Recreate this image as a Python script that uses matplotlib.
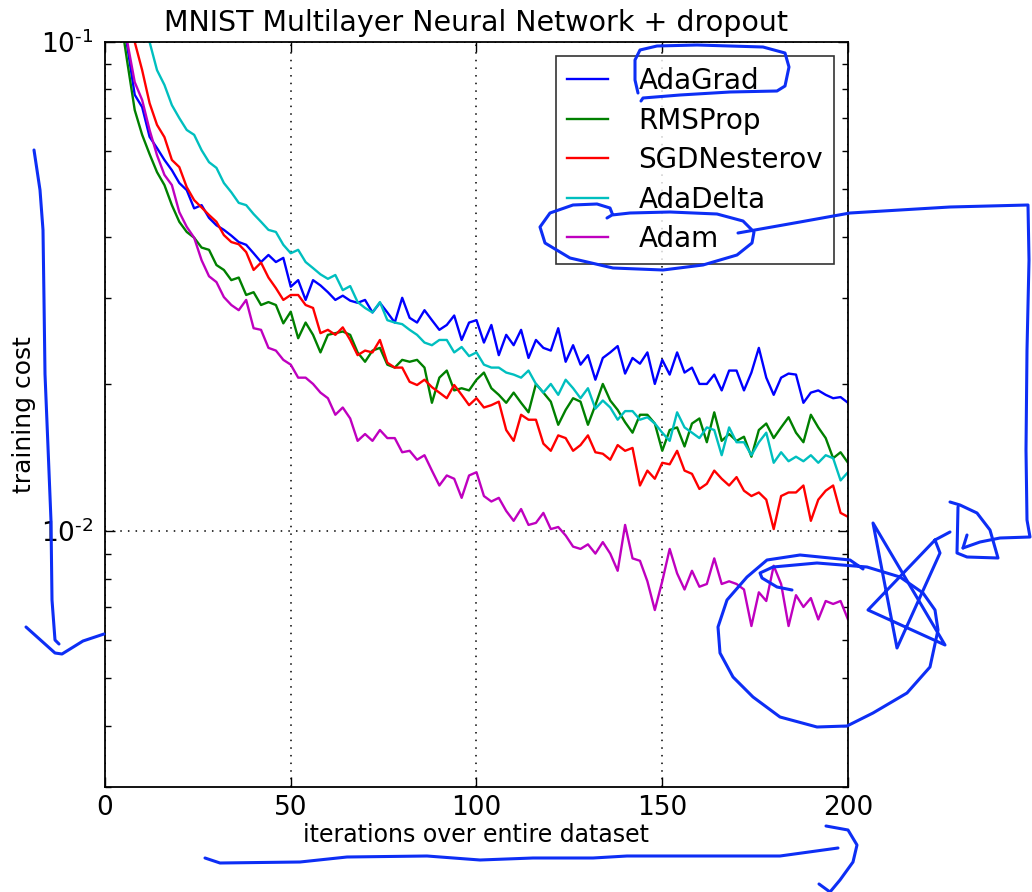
import numpy as np
import matplotlib
matplotlib.use("Agg")
import matplotlib.pyplot as plt
from matplotlib.lines import Line2D
from matplotlib.ticker import FixedLocator, FixedFormatter

plt.rcParams["font.family"] = ["DejaVu Sans"]
plt.rcParams["mathtext.default"] = "regular"

# iterations (every second epoch)
iters = list(range(0, 201, 2))

adagrad = [
    0.30, 0.18, 0.125, 0.098, 0.078, 0.0736, 0.064, 0.0607, 0.0574, 0.0547,
    0.0515, 0.0498, 0.0457, 0.0464, 0.0437, 0.0422, 0.0413, 0.0402, 0.039, 0.0385,
    0.037, 0.0355, 0.0367, 0.0355, 0.0362, 0.0316, 0.0326, 0.0297, 0.0326, 0.0318,
    0.0308, 0.0297, 0.0303, 0.0296, 0.0293, 0.0297, 0.028, 0.0293, 0.028, 0.0267,
    0.030, 0.0273, 0.0267, 0.0283, 0.027, 0.0258, 0.0264, 0.0276, 0.0246, 0.0267,
    0.027, 0.0243, 0.0264, 0.0229, 0.0252, 0.024, 0.0258, 0.0226, 0.0246, 0.0237,
    0.0234, 0.026, 0.0222, 0.024, 0.0219, 0.0229, 0.0204, 0.0226, 0.0232, 0.0239,
    0.021, 0.0226, 0.022, 0.0232, 0.020, 0.0224, 0.0209, 0.0232, 0.0211, 0.0216,
    0.020, 0.020, 0.0209, 0.0194, 0.0213, 0.0213, 0.0194, 0.0211, 0.0237, 0.0206,
    0.019, 0.0206, 0.021, 0.0209, 0.0183, 0.0192, 0.0194, 0.019, 0.0187, 0.0188, 0.0183,
]
rmsprop = [
    0.28, 0.17, 0.115, 0.091, 0.0726, 0.0646, 0.059, 0.0542, 0.051, 0.0464,
    0.0429, 0.0409, 0.0398, 0.038, 0.0376, 0.035, 0.0342, 0.0326, 0.033, 0.0304,
    0.0308, 0.029, 0.0294, 0.029, 0.0266, 0.0281, 0.0248, 0.0267, 0.0252, 0.0232,
    0.0252, 0.0254, 0.0256, 0.0252, 0.0232, 0.0222, 0.0234, 0.0237, 0.0219, 0.0216,
    0.0224, 0.0222, 0.0224, 0.0216, 0.0183, 0.0206, 0.0213, 0.0194, 0.0196, 0.0194,
    0.0204, 0.0211, 0.0196, 0.019, 0.0183, 0.0192, 0.0183, 0.0175, 0.020, 0.0192,
    0.0184, 0.0165, 0.0177, 0.0187, 0.0184, 0.0165, 0.0181, 0.020, 0.0185, 0.0177,
    0.0167, 0.0159, 0.0173, 0.0173, 0.0166, 0.0146, 0.0161, 0.0163, 0.0149, 0.0166,
    0.017, 0.0152, 0.0175, 0.0153, 0.0158, 0.0153, 0.0156, 0.0142, 0.0161, 0.0166,
    0.0155, 0.0163, 0.0171, 0.0159, 0.0152, 0.0173, 0.0163, 0.0155, 0.0141, 0.0145, 0.0138,
]
sgd_nesterov = [
    0.40, 0.25, 0.16, 0.12, 0.10, 0.0876, 0.075, 0.0677, 0.0639, 0.0574,
    0.0555, 0.0505, 0.0475, 0.0459, 0.0443, 0.0429, 0.0403, 0.039, 0.0386, 0.0372,
    0.0342, 0.0354, 0.033, 0.0314, 0.0297, 0.0304, 0.0304, 0.029, 0.0286, 0.0254,
    0.0258, 0.0252, 0.0261, 0.0246, 0.0229, 0.0234, 0.0232, 0.0246, 0.0221, 0.0216,
    0.0216, 0.0202, 0.0199, 0.0204, 0.0197, 0.0192, 0.0187, 0.0199, 0.019, 0.0181,
    0.0187, 0.0179, 0.0181, 0.0184, 0.0161, 0.0153, 0.0173, 0.0169, 0.0169, 0.0151,
    0.0146, 0.0157, 0.0155, 0.0146, 0.015, 0.0157, 0.0145, 0.0144, 0.014, 0.015,
    0.0146, 0.0148, 0.0124, 0.0133, 0.0128, 0.0138, 0.0137, 0.0146, 0.0133, 0.0131,
    0.0122, 0.0125, 0.0133, 0.0128, 0.0124, 0.0129, 0.0121, 0.0118, 0.012, 0.0116,
    0.0101, 0.0118, 0.012, 0.012, 0.0124, 0.0105, 0.0116, 0.0121, 0.0124, 0.0109, 0.0107,
]
adadelta = [
    0.60, 0.40, 0.26, 0.19, 0.145, 0.115, 0.10, 0.0876, 0.0817, 0.0743,
    0.0699, 0.0661, 0.0646, 0.0601, 0.0568, 0.0553, 0.0515, 0.0493, 0.0469, 0.0464,
    0.0445, 0.0429, 0.0413, 0.0409, 0.0385, 0.037, 0.0376, 0.0355, 0.0345, 0.0335,
    0.0328, 0.0334, 0.0311, 0.0317, 0.0294, 0.0286, 0.028, 0.0294, 0.027, 0.0267,
    0.0265, 0.0258, 0.0252, 0.0243, 0.024, 0.0246, 0.0246, 0.0232, 0.0238, 0.0228,
    0.0232, 0.0219, 0.0216, 0.0216, 0.0211, 0.0209, 0.0206, 0.0213, 0.020, 0.0192,
    0.020, 0.019, 0.0204, 0.0196, 0.0187, 0.0196, 0.0178, 0.0185, 0.0179, 0.0169,
    0.0176, 0.0176, 0.0169, 0.0171, 0.0166, 0.0159, 0.0153, 0.0175, 0.0163, 0.0159,
    0.0155, 0.0163, 0.0161, 0.0143, 0.0163, 0.0152, 0.0152, 0.0143, 0.0152, 0.0159,
    0.0138, 0.0145, 0.0139, 0.0142, 0.0139, 0.0143, 0.0138, 0.0143, 0.0141, 0.0127, 0.0132,
]
adam = [
    0.30, 0.18, 0.122, 0.10, 0.0828, 0.0761, 0.0661, 0.0587, 0.0535, 0.051,
    0.0449, 0.0419, 0.0398, 0.0358, 0.0332, 0.0323, 0.0301, 0.029, 0.0283, 0.0297,
    0.026, 0.0258, 0.0237, 0.0234, 0.0224, 0.0219, 0.0206, 0.0206, 0.020, 0.0192,
    0.0187, 0.0173, 0.0179, 0.017, 0.0153, 0.0158, 0.0153, 0.0161, 0.0155, 0.0155,
    0.0145, 0.0146, 0.014, 0.0143, 0.0133, 0.0124, 0.013, 0.0128, 0.0117, 0.013,
    0.0132, 0.0118, 0.0115, 0.0117, 0.011, 0.0105, 0.0111, 0.0103, 0.0104, 0.0109,
    0.0101, 0.0102, 0.0098, 0.0093, 0.0092, 0.0094, 0.009, 0.0095, 0.009, 0.0083,
    0.0103, 0.0088, 0.0087, 0.0079, 0.0069, 0.0079, 0.0092, 0.0082, 0.0076, 0.0083,
    0.0077, 0.0078, 0.0088, 0.0078, 0.0079, 0.0078, 0.0076, 0.0064, 0.0075, 0.0072,
    0.0085, 0.0078, 0.0064, 0.0074, 0.007, 0.0073, 0.0066, 0.0072, 0.0071, 0.0072, 0.0066,
]

series = [
    ("AdaGrad", adagrad, "b"),
    ("RMSProp", rmsprop, "g"),
    ("SGDNesterov", sgd_nesterov, "r"),
    ("AdaDelta", adadelta, "c"),
    ("Adam", adam, "m"),
]

ytick_vals = [0.01, 0.1]
ytick_labels = [r"$10^{\text{-}2}$", r"$10^{\text{-}1}$"]

W, H = 1032, 892
fig = plt.figure(figsize=(W / 100, H / 100), dpi=100)
ax = fig.add_axes([105 / W, 1 - 787 / H, 743 / W, 745 / H])

for name, vals, col in series:
    ax.plot(iters, vals, color=col, lw=1.7, label=name)

ax.set_yscale("log")
ax.set_xlim(0, 200)
ax.set_ylim(0.003, 0.1)
ax.set_xticks([0, 50, 100, 150, 200])
ax.yaxis.set_major_locator(FixedLocator(ytick_vals))
ax.yaxis.set_major_formatter(FixedFormatter(ytick_labels))
ax.tick_params(which="both", direction="in", top=True, right=True)
ax.tick_params(axis="x", labelsize=19, pad=6)
ax.tick_params(axis="y", labelsize=19, pad=8)
ax.tick_params(which="major", length=7, width=1)
ax.tick_params(which="minor", length=4, width=1)
ax.grid(True, which="major", color="k", linestyle=(0, (1, 4)), lw=1.1)
for sp in ax.spines.values():
    sp.set_linewidth(1.3)

ax.set_title("MNIST Multilayer Neural Network + dropout", fontsize=20.5, pad=8)
ax.set_xlabel("iterations over entire dataset", fontsize=17, labelpad=1)
ax.set_ylabel("training cost", fontsize=18, labelpad=4)

leg = ax.legend(loc="upper right", fontsize=20, handlelength=1.5, handletextpad=1.08,
                labelspacing=0.415, borderpad=0.4, borderaxespad=0.5, fancybox=False)
leg.get_frame().set_edgecolor("k")
leg.get_frame().set_linewidth(1.2)

# hand-drawn pen marks on top of the figure (pixel positions, y from top)
pen = "#0d2ef5"


def stroke(pts):
    xs = [p[0] / W for p in pts]
    ys = [1 - p[1] / H for p in pts]
    fig.add_artist(Line2D(xs, ys, color=pen, lw=2.2, solid_capstyle="round",
                          solid_joinstyle="round", transform=fig.transFigure))


stroke([(638, 93), (635, 80), (635, 60), (640, 50), (657, 46), (697, 45), (763, 47),
        (785, 53), (789, 67), (785, 86), (777, 91), (730, 92), (680, 95), (643, 98), (641, 101)])
stroke([(607, 218), (612, 215), (630, 213), (670, 212), (717, 214), (743, 221), (754, 232),
        (752, 243), (737, 255), (703, 265), (663, 270), (613, 268), (570, 258), (545, 243),
        (540, 227), (550, 213), (573, 205), (597, 204), (610, 208), (612, 213)])
stroke([(738, 233), (800, 222), (850, 213), (950, 207), (1028, 205), (1029, 260), (1027, 350),
        (1026, 450), (1027, 520), (1030, 537), (1000, 538), (980, 542), (963, 548)])
stroke([(967, 535), (963, 548)])
stroke([(950, 502), (960, 505), (977, 513), (990, 530), (998, 558), (967, 557), (957, 553), (958, 507)])
stroke([(935, 540), (868, 610), (945, 645), (873, 523), (897, 648), (940, 553), (935, 540), (950, 532)])
stroke([(863, 569), (850, 560), (800, 555), (767, 560), (747, 577), (727, 600), (718, 627),
        (720, 653), (733, 677), (753, 697), (780, 717), (817, 727), (847, 726), (873, 713),
        (907, 693), (930, 667), (938, 630), (935, 610), (923, 593), (900, 577), (867, 567),
        (817, 563), (773, 567), (760, 573), (762, 578), (777, 587), (792, 590)])
stroke([(34, 150), (40, 190), (43, 230), (44, 300), (45, 374), (48, 447), (51, 521), (52, 600),
        (55, 640), (59, 644)])
stroke([(26, 627), (55, 653), (62, 654), (83, 641), (104, 634)])
stroke([(205, 858), (220, 863), (300, 862), (347, 857), (427, 856), (480, 860), (533, 858),
        (593, 858), (627, 856), (780, 856), (838, 848)])
stroke([(826, 826), (848, 830), (857, 845), (853, 862), (840, 880), (830, 892)])
stroke([(819, 884), (830, 892)])

fig.savefig("out.png", dpi=100)
